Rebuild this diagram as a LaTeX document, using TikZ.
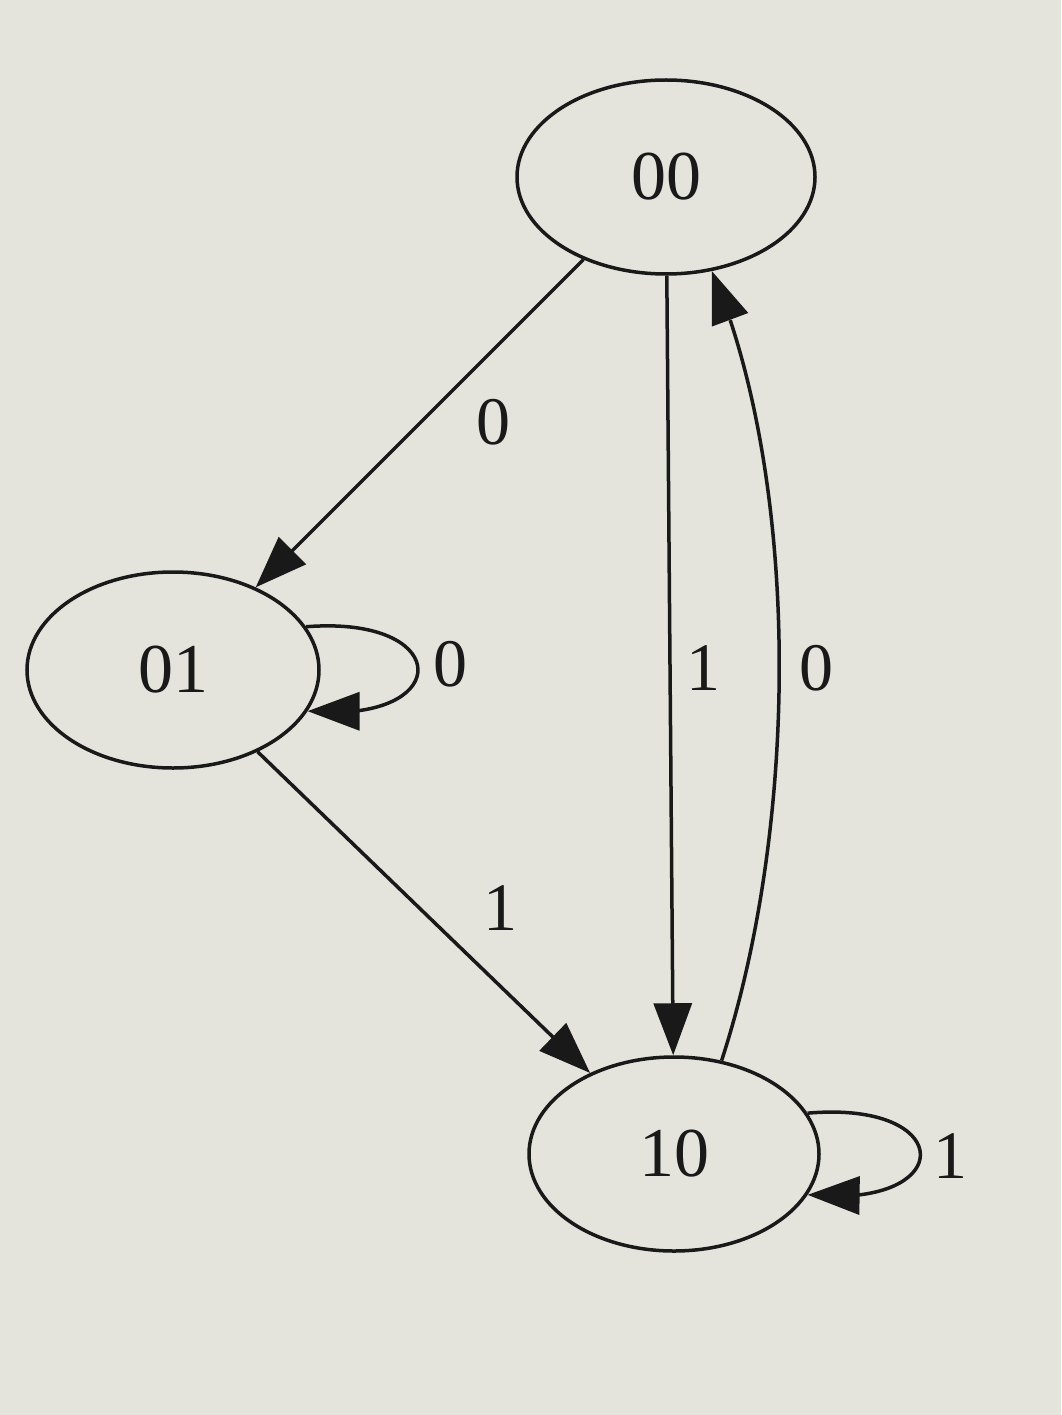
\documentclass[tikz,border=0pt]{standalone}
\usepackage{fontspec}
\setmainfont{Liberation Serif}
\usetikzlibrary{shapes.geometric,arrows.meta,bending}
\definecolor{bg}{RGB}{228,228,221}
\definecolor{ink}{RGB}{25,25,25}
\begin{document}
\begin{tikzpicture}[x=1pt,y=-1pt,
  state/.style={ellipse,draw=ink,line width=3.5pt,inner sep=0pt,font=\fontsize{70}{84}\selectfont,text=ink},
  lbl/.style={inner sep=0pt,font=\fontsize{68}{80}\selectfont,text=ink},
  edge/.style={draw=ink,line width=3.5pt,-{Triangle[length=52pt,width=38pt,flex]},ink}]
\fill[bg] (0,0) rectangle (1061,1415);
\useasboundingbox (0,0) rectangle (1061,1415);
\node[state,minimum width=298pt,minimum height=194pt] (n00) at (666,177) {00};
\node[state,minimum width=292pt,minimum height=196pt] (n01) at (173,670) {01};
\node[state,minimum width=290pt,minimum height=194pt] (n10) at (674,1154) {10};
\draw[edge] (n00) -- (n01);
\draw[edge] (n00) -- (n10);
\draw[edge] (n01) -- (n10);
\draw[edge] (n10.63) .. controls (800,820) and (800,480) .. (n00.-64);
\draw[edge] (n01.18) .. controls (455,615) and (455,725) .. (n01.-17);
\draw[edge] (n10.17) .. controls (958,1100) and (958,1210) .. (n10.-17);
\node[lbl] (l1) at (493,422) {0};
\node[lbl] (l2) at (703,668) {1};
\node[lbl] (l3) at (816,668) {0};
\node[lbl] (l4) at (450,664) {0};
\node[lbl] (l5) at (500,908) {1};
\node[lbl] (l6) at (950,1156) {1};
\end{tikzpicture}
\end{document}
